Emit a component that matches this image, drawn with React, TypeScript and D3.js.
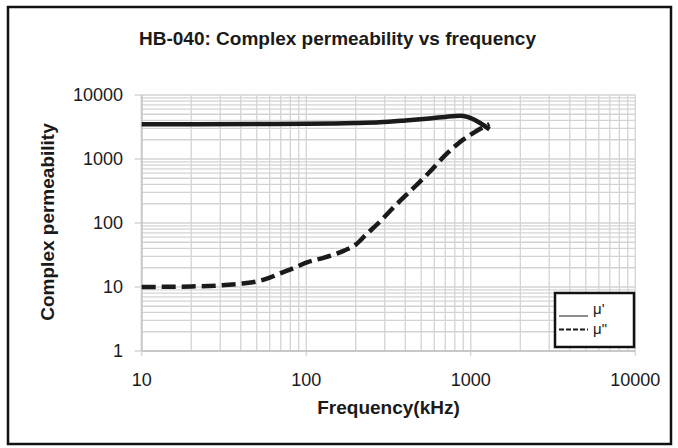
import * as d3 from "d3";

// frequency in kHz, permeability values
const freqReal = [10, 50, 100, 150, 200, 280, 400, 560, 700, 800, 870, 950, 1000, 1140, 1300];
const muReal = [3500, 3520, 3560, 3600, 3650, 3750, 4000, 4300, 4550, 4700, 4720, 4550, 4350, 3650, 2900];

const freqImag = [10, 20, 30, 40, 50, 60, 70, 85, 100, 130, 170, 200, 230, 275, 350, 460, 560, 700, 850, 1000, 1150, 1300];
const muImag = [10, 10.2, 10.6, 11.3, 12.2, 14, 16.5, 20, 24, 29, 37, 46, 65, 100, 190, 375, 620, 1150, 1800, 2400, 3000, 3500];

const xTicks = [10, 100, 1000, 10000];
const yTicks = [1, 10, 100, 1000, 10000];

const title = "HB-040: Complex permeability vs frequency";
const xTitle = "Frequency(kHz)";
const yTitle = "Complex permeability";
const legendLabels = ["μ'", "μ\""];

const W = 678;
const H = 448;
const font = "'Liberation Sans', Arial, sans-serif";

export default function App() {
  const plot = { left: 141.7, right: 635.3, top: 95, bottom: 351 };

  const x = d3.scaleLog().domain([10, 10000]).range([plot.left, plot.right]);
  const y = d3.scaleLog().domain([1, 10000]).range([plot.bottom, plot.top]);

  // minor grid values: 2..9 within every decade
  const minorX: number[] = [];
  for (let d = 1; d < 4; d++) for (let k = 2; k < 10; k++) minorX.push(k * 10 ** d);
  const minorY: number[] = [];
  for (let d = 0; d < 4; d++) for (let k = 2; k < 10; k++) minorY.push(k * 10 ** d);

  const line = d3
    .line<[number, number]>()
    .x((d) => x(d[0]))
    .y((d) => y(d[1]))
    .curve(d3.curveMonotoneX);

  const realPath = line(freqReal.map((f, i) => [f, muReal[i]]));
  const imagPath = line(freqImag.map((f, i) => [f, muImag[i]]));

  const grid = "#d4d4d4";
  const legend = { x: 555, y: 293, w: 79, h: 54 };

  return (
    <svg
      width={W}
      height={H}
      style={{ position: "absolute", left: 0, top: 0, background: "#fff" }}
      fontFamily={font}
    >
      <rect x={8} y={7} width={663} height={437} fill="#fff" stroke="#111" strokeWidth={2.5} />

      {/* grid */}
      <g stroke={grid} strokeWidth={1.3}>
        {minorX.map((v) => (
          <line key={"mx" + v} x1={x(v)} x2={x(v)} y1={plot.top} y2={plot.bottom} />
        ))}
        {minorY.map((v) => (
          <line key={"my" + v} x1={plot.left} x2={plot.right} y1={y(v)} y2={y(v)} />
        ))}
        {xTicks.map((v) => (
          <line key={"gx" + v} x1={x(v)} x2={x(v)} y1={plot.top} y2={plot.bottom + 5} />
        ))}
        {yTicks.map((v) => (
          <line key={"gy" + v} x1={plot.left - 7} x2={plot.right} y1={y(v)} y2={y(v)} />
        ))}
      </g>
      <line x1={plot.left} x2={plot.left} y1={plot.top} y2={plot.bottom} stroke="#c8c8c8" strokeWidth={2} />
      <line x1={plot.left} x2={plot.right} y1={plot.bottom} y2={plot.bottom} stroke="#c8c8c8" strokeWidth={2} />

      {/* tick labels */}
      <g fontSize={18} fill="#1a1a1a">
        {yTicks.map((v) => (
          <text key={"ty" + v} x={123} y={y(v)} dy="0.35em" textAnchor="end">
            {v}
          </text>
        ))}
        {xTicks.map((v) => (
          <text key={"tx" + v} x={x(v)} y={386} textAnchor="middle">
            {v}
          </text>
        ))}
      </g>

      {/* series */}
      <path d={realPath ?? ""} fill="none" stroke="#1a1a1a" strokeWidth={4.5} />
      <path d={imagPath ?? ""} fill="none" stroke="#1a1a1a" strokeWidth={4.5} strokeDasharray="14,6" />

      {/* titles */}
      <text x={337.5} y={45} textAnchor="middle" fontSize={19} fontWeight="bold" fill="#1a1a1a">
        {title}
      </text>
      <text x={(plot.left + plot.right) / 2} y={414} textAnchor="middle" fontSize={19} fontWeight="bold" fill="#1a1a1a">
        {xTitle}
      </text>
      <text
        transform={`translate(54,222) rotate(-90)`}
        textAnchor="middle"
        fontSize={19}
        fontWeight="bold"
        fill="#1a1a1a"
      >
        {yTitle}
      </text>

      {/* legend */}
      <rect x={legend.x} y={legend.y} width={legend.w} height={legend.h} fill="#fff" stroke="#111" strokeWidth={2.5} />
      <line x1={559} x2={588} y1={316} y2={316} stroke="#1a1a1a" strokeWidth={1} />
      <line x1={559} x2={588} y1={329.5} y2={329.5} stroke="#1a1a1a" strokeWidth={2} strokeDasharray="5,2" />
      <g fontSize={15} fill="#1a1a1a">
        <text x={593} y={314}>
          {legendLabels[0]}
        </text>
        <text x={593} y={334}>
          {legendLabels[1]}
        </text>
      </g>
    </svg>
  );
}
